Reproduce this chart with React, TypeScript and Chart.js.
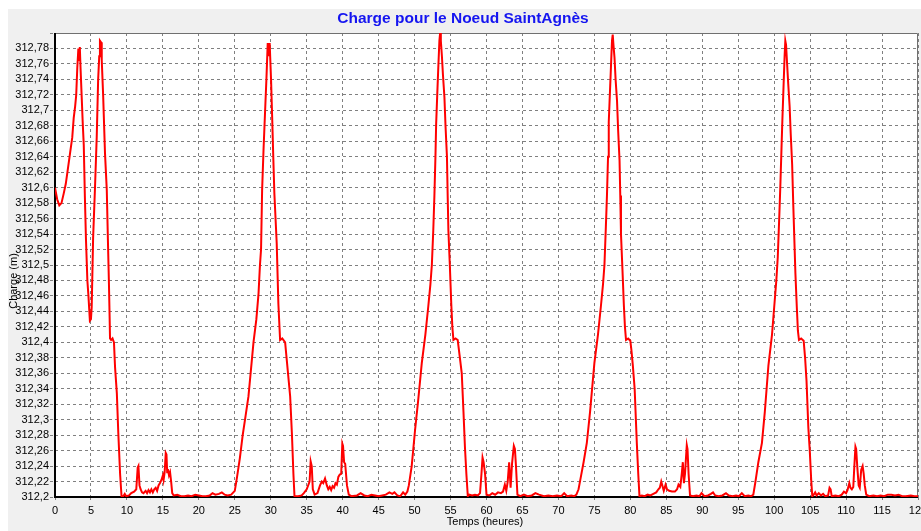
import React, { useEffect, useRef } from "react";
import { Chart, registerables } from "chart.js";

Chart.register(...registerables);

const TITLE = "Charge pour le Noeud SaintAgnès";
const X_TITLE = "Temps (heures)";
const Y_TITLE = "Charge (m)";

const xTicks = [0, 5, 10, 15, 20, 25, 30, 35, 40, 45, 50, 55, 60, 65, 70, 75, 80, 85, 90, 95, 100, 105, 110, 115, 120];
const yTicks = [
  312.2, 312.22, 312.24, 312.26, 312.28, 312.3, 312.32, 312.34, 312.36, 312.38,
  312.4, 312.42, 312.44, 312.46, 312.48, 312.5, 312.52, 312.54, 312.56, 312.58,
  312.6, 312.62, 312.64, 312.66, 312.68, 312.7, 312.72, 312.74, 312.76, 312.78, 312.8,
];

// [hours, charge (m)]
const day1: [number, number][] = [
  [0, 312.6], [0.3, 312.585], [0.6, 312.577], [0.9, 312.58], [1.2, 312.592], [1.5, 312.605],
  [1.8, 312.625], [2.1, 312.645], [2.4, 312.665], [2.6, 312.69], [2.8, 312.705], [2.95, 312.72],
  [3.1, 312.755], [3.25, 312.78], [3.35, 312.765], [3.45, 312.782], [3.55, 312.755], [3.7, 312.72],
  [3.85, 312.685], [4.0, 312.655], [4.15, 312.59], [4.3, 312.535], [4.5, 312.48], [4.65, 312.46],
  [4.85, 312.428], [5.0, 312.43], [5.1, 312.445], [5.3, 312.535], [5.55, 312.597], [5.8, 312.665],
  [6.0, 312.74], [6.15, 312.77], [6.25, 312.79], [6.4, 312.788], [6.5, 312.765], [6.7, 312.718],
  [6.95, 312.645], [7.2, 312.597], [7.35, 312.535], [7.5, 312.476], [7.6, 312.43], [7.65, 312.405],
  [7.8, 312.403], [8.0, 312.405], [8.2, 312.4], [8.35, 312.368], [8.6, 312.334], [8.8, 312.283],
  [9.05, 312.23], [9.25, 312.201], [9.5, 312.201], [9.7, 312.204], [9.9, 312.201], [10.3, 312.202],
  [10.6, 312.205], [11.0, 312.207], [11.3, 312.21], [11.5, 312.238], [11.6, 312.24], [11.75, 312.215],
  [11.9, 312.21], [12.1, 312.206], [12.3, 312.205], [12.6, 312.208], [12.8, 312.205], [13.0, 312.209],
  [13.2, 312.206], [13.4, 312.21], [13.6, 312.206], [13.8, 312.21], [14.0, 312.212], [14.2, 312.208],
  [14.4, 312.215], [14.6, 312.218], [14.8, 312.222], [15.0, 312.228], [15.1, 312.222], [15.25, 312.232],
  [15.4, 312.257], [15.5, 312.255], [15.6, 312.232], [15.7, 312.236], [15.85, 312.228], [16.0, 312.232],
  [16.15, 312.22], [16.3, 312.205], [16.5, 312.202], [17.0, 312.203], [17.5, 312.201], [18.0, 312.201],
  [18.5, 312.202], [19.0, 312.201], [19.5, 312.203], [20.0, 312.202], [20.5, 312.201], [21.0, 312.201],
  [21.5, 312.202], [21.9, 312.205], [22.3, 312.203], [22.8, 312.204], [23.2, 312.206], [23.6, 312.203],
  [24.0, 312.202], [24.5, 312.203], [24.8, 312.206],
];

const day2: [number, number][] = [
  [25.0, 312.208], [25.3, 312.225], [25.7, 312.25], [26.1, 312.28], [26.5, 312.305], [26.9, 312.33],
  [27.3, 312.37], [27.6, 312.4], [28.0, 312.43], [28.3, 312.463], [28.5, 312.5], [28.65, 312.52],
  [28.8, 312.597], [29.0, 312.65], [29.2, 312.696], [29.4, 312.741], [29.58, 312.787], [29.7, 312.77],
  [29.85, 312.787], [30.04, 312.74], [30.2, 312.69], [30.35, 312.64], [30.5, 312.593], [30.83, 312.528],
  [31.06, 312.45], [31.3, 312.403], [31.6, 312.405], [32.0, 312.4], [32.2, 312.38], [32.7, 312.33],
  [32.95, 312.28], [33.15, 312.23], [33.3, 312.201], [33.8, 312.201], [34.3, 312.202], [34.6, 312.205],
  [35.0, 312.21], [35.4, 312.22], [35.55, 312.246], [35.7, 312.24], [35.85, 312.21], [36.1, 312.203],
  [36.5, 312.205], [36.85, 312.215], [37.1, 312.22], [37.3, 312.218], [37.55, 312.224], [37.8, 312.215],
  [38.0, 312.21], [38.2, 312.213], [38.4, 312.209], [38.6, 312.214], [38.8, 312.212], [39.0, 312.218],
  [39.2, 312.216], [39.4, 312.226], [39.6, 312.229], [39.8, 312.23], [39.95, 312.269], [40.05, 312.266],
  [40.2, 312.245], [40.35, 312.243], [40.6, 312.215], [40.85, 312.203], [41.2, 312.201], [42.0, 312.202],
  [42.5, 312.205], [43.0, 312.202], [43.5, 312.201], [44.0, 312.203], [44.5, 312.202], [45.0, 312.201],
  [45.5, 312.202], [46.0, 312.203], [46.5, 312.206], [46.9, 312.204], [47.2, 312.206], [47.6, 312.202],
  [48.0, 312.201], [48.4, 312.206], [48.7, 312.203],
];

const day3: [number, number][] = [
  [49.0, 312.207], [49.2, 312.215], [49.6, 312.24], [50.07, 312.287], [50.5, 312.325], [51.0, 312.373],
  [51.5, 312.41], [51.9, 312.446], [52.2, 312.475], [52.4, 312.5], [52.6, 312.545], [52.75, 312.588],
  [52.9, 312.64], [53.0, 312.683], [53.15, 312.72], [53.3, 312.756], [53.45, 312.79], [53.55, 312.8],
  [53.65, 312.79], [53.8, 312.77], [53.95, 312.745], [54.15, 312.717], [54.3, 312.68], [54.5, 312.64],
  [54.6, 312.59], [54.7, 312.545], [54.9, 312.5], [55.1, 312.45], [55.25, 312.42], [55.4, 312.403],
  [55.7, 312.405], [56.0, 312.403], [56.1, 312.395], [56.3, 312.38], [56.56, 312.36], [56.8, 312.31],
  [57.0, 312.265], [57.2, 312.23], [57.4, 312.201], [57.6, 312.203], [58.0, 312.202], [58.4, 312.203],
  [58.8, 312.202], [59.1, 312.205], [59.3, 312.23], [59.45, 312.251], [59.6, 312.245], [59.8, 312.23],
  [60.0, 312.203], [60.4, 312.202], [60.8, 312.205], [61.2, 312.203], [61.6, 312.206], [62.0, 312.205],
  [62.3, 312.207], [62.55, 312.216], [62.75, 312.208], [62.95, 312.22], [63.15, 312.245], [63.35, 312.212],
  [63.55, 312.243], [63.8, 312.266], [63.95, 312.262], [64.1, 312.24], [64.3, 312.203], [64.7, 312.201],
  [65.2, 312.203], [65.7, 312.201], [66.3, 312.202], [66.8, 312.205], [67.3, 312.203], [68.0, 312.201],
  [68.6, 312.202], [69.2, 312.201], [69.8, 312.202], [70.4, 312.201], [70.8, 312.205], [71.2, 312.201],
  [71.8, 312.202], [72.2, 312.201], [72.5, 312.203],
];

const day4: [number, number][] = [
  [72.8, 312.21], [73.1, 312.225], [73.5, 312.245], [73.95, 312.27], [74.4, 312.31], [75.0, 312.373],
  [75.5, 312.41], [75.9, 312.446], [76.2, 312.475], [76.4, 312.5], [76.6, 312.55], [76.75, 312.59],
  [76.9, 312.64], [77.0, 312.685], [77.15, 312.72], [77.3, 312.755], [77.45, 312.79], [77.55, 312.798],
  [77.65, 312.785], [77.8, 312.768], [77.95, 312.74], [78.15, 312.712], [78.3, 312.675], [78.5, 312.635],
  [78.6, 312.59], [78.7, 312.54], [78.9, 312.495], [79.1, 312.448], [79.25, 312.42], [79.4, 312.403],
  [79.7, 312.405], [80.0, 312.402], [80.15, 312.39], [80.35, 312.37], [80.6, 312.34], [80.9, 312.27],
  [81.1, 312.23], [81.27, 312.201], [81.6, 312.202], [82.0, 312.201], [82.4, 312.203], [82.8, 312.202],
  [83.2, 312.204], [83.6, 312.206], [83.9, 312.21], [84.1, 312.212], [84.3, 312.22], [84.45, 312.215],
  [84.65, 312.208], [84.9, 312.216], [85.1, 312.21], [85.4, 312.208], [85.8, 312.207], [86.2, 312.207],
  [86.5, 312.21], [86.7, 312.216], [86.95, 312.213], [87.15, 312.23], [87.3, 312.245], [87.45, 312.218],
  [87.6, 312.23], [87.85, 312.267], [87.95, 312.262], [88.1, 312.23], [88.3, 312.202], [88.7, 312.201],
  [89.2, 312.202], [89.6, 312.201], [89.9, 312.205], [90.3, 312.201], [90.8, 312.202], [91.2, 312.204],
  [91.5, 312.206], [91.8, 312.202], [92.3, 312.201], [92.8, 312.202], [93.3, 312.205], [93.7, 312.202],
  [94.2, 312.201], [94.7, 312.202], [95.1, 312.201], [95.5, 312.205], [95.9, 312.201], [96.4, 312.202],
  [96.8, 312.201], [97.1, 312.203],
];

const day5: [number, number][] = [
  [97.4, 312.22], [97.8, 312.245], [98.3, 312.27], [98.7, 312.31], [99.2, 312.37], [99.7, 312.41],
  [100.0, 312.445], [100.3, 312.48], [100.5, 312.51], [100.7, 312.56], [100.85, 312.6], [101.0, 312.645],
  [101.15, 312.69], [101.3, 312.73], [101.45, 312.77], [101.55, 312.79], [101.65, 312.785], [101.8, 312.76],
  [101.95, 312.735], [102.15, 312.705], [102.3, 312.67], [102.5, 312.63], [102.65, 312.58], [102.8, 312.535],
  [102.95, 312.49], [103.15, 312.445], [103.3, 312.415], [103.45, 312.403], [103.75, 312.405], [104.1, 312.402],
  [104.3, 312.38], [104.5, 312.35], [104.75, 312.29], [104.95, 312.26], [105.15, 312.222], [105.3, 312.201],
  [105.5, 312.203], [105.7, 312.206], [105.9, 312.202], [106.2, 312.205], [106.5, 312.202], [106.8, 312.204],
  [107.1, 312.201], [107.5, 312.202], [107.7, 312.212], [107.85, 312.21], [108.0, 312.201], [108.5, 312.202],
  [109.0, 312.201], [109.4, 312.203], [109.7, 312.207], [110.0, 312.205], [110.2, 312.209], [110.45, 312.218],
  [110.6, 312.212], [110.8, 312.21], [111.0, 312.213], [111.15, 312.24], [111.3, 312.265], [111.4, 312.262],
  [111.55, 312.24], [111.75, 312.215], [111.9, 312.212], [112.1, 312.235], [112.3, 312.24], [112.45, 312.23],
  [112.6, 312.215], [112.8, 312.203], [113.2, 312.201], [113.8, 312.202], [114.3, 312.201], [114.8, 312.202],
  [115.3, 312.201], [115.8, 312.203], [116.3, 312.203], [116.8, 312.202], [117.3, 312.203], [117.8, 312.201],
  [118.3, 312.201], [119.0, 312.202], [119.5, 312.201], [120, 312.201],
];

const series = [...day1, ...day2, ...day3, ...day4, ...day5];

const fmt = (v: number) => {
  if (v >= 312.799) return "";
  return String(parseFloat(v.toFixed(2))).replace(".", ",");
};

const decorPlugin = {
  id: "decor",
  beforeDraw(chart: any) {
    const { ctx, chartArea: a } = chart;
    ctx.save();
    ctx.fillStyle = "#ffffff";
    ctx.fillRect(a.left, a.top, a.right - a.left, a.bottom - a.top);
    ctx.restore();
  },
  beforeDatasetsDraw(chart: any) {
    const { ctx, chartArea: a } = chart;
    ctx.save();
    ctx.strokeStyle = "#707070";
    ctx.lineWidth = 1;
    ctx.beginPath();
    ctx.moveTo(a.left, a.top + 0.5);
    ctx.lineTo(a.right - 0.5, a.top + 0.5);
    ctx.lineTo(a.right - 0.5, a.bottom);
    ctx.stroke();
    ctx.strokeStyle = "#000000";
    ctx.lineWidth = 2;
    ctx.beginPath();
    ctx.moveTo(a.left, a.top);
    ctx.lineTo(a.left, a.bottom);
    ctx.lineTo(a.right, a.bottom);
    ctx.stroke();
    ctx.restore();
  },
  afterDraw(chart: any) {
    const { ctx } = chart;
    ctx.save();
    ctx.fillStyle = "#1515f0";
    ctx.font = "bold 15.5px 'Liberation Sans', Arial, sans-serif";
    ctx.textAlign = "center";
    ctx.textBaseline = "middle";
    ctx.fillText(TITLE, 455, 10);
    ctx.fillStyle = "#000000";
    ctx.font = "11px 'Liberation Sans', Arial, sans-serif";
    ctx.fillText(X_TITLE, 477, 513);
    ctx.translate(6, 272);
    ctx.rotate(-Math.PI / 2);
    ctx.fillText(Y_TITLE, 0, 0);
    ctx.restore();
  },
};

export default function App() {
  const ref = useRef<HTMLCanvasElement | null>(null);

  useEffect(() => {
    if (!ref.current) return;
    const chart = new Chart(ref.current, {
      type: "line",
      data: {
        datasets: [
          {
            data: series.map(([x, y]) => ({ x, y })),
            borderColor: "#ff0000",
            borderWidth: 2,
            pointRadius: 0,
            tension: 0,
            fill: false,
          },
        ],
      },
      options: {
        animation: false,
        responsive: false,
        events: [],
        layout: { padding: { left: 0, top: 24, right: 3, bottom: 0 } },
        plugins: { legend: { display: false }, tooltip: { enabled: false }, title: { display: false } },
        scales: {
          x: {
            type: "linear",
            min: 0,
            max: 120,
            afterBuildTicks: (s: any) => {
              s.ticks = xTicks.map((v) => ({ value: v }));
            },
            afterFit: (s: any) => {
              s.height = 34;
              s.paddingLeft = 0;
              s.paddingRight = 0;
            },
            ticks: {
              autoSkip: false,
              maxRotation: 0,
              padding: 2,
              color: "#000000",
              font: { family: "'Liberation Sans', Arial, sans-serif", size: 11 },
              callback: (v: any) => String(v),
            },
            grid: {
              color: "#808080",
              lineWidth: 1,
              tickLength: 5,
              tickBorderDash: [3, 3],
            },
            border: { display: false, dash: [3, 3] },
          },
          y: {
            type: "linear",
            min: 312.2,
            max: 312.8,
            afterBuildTicks: (s: any) => {
              s.ticks = yTicks.map((v) => ({ value: v }));
            },
            afterFit: (s: any) => {
              s.width = 47;
              s.paddingTop = 0;
              s.paddingBottom = 0;
            },
            ticks: {
              autoSkip: false,
              padding: 1,
              color: "#000000",
              font: { family: "'Liberation Sans', Arial, sans-serif", size: 11 },
              callback: (v: any) => fmt(Number(v)),
            },
            grid: {
              color: "#808080",
              lineWidth: 1,
              tickLength: 5,
              tickBorderDash: [3, 3],
            },
            border: { display: false, dash: [3, 3] },
          },
        },
      },
      plugins: [decorPlugin],
    } as any);
    return () => chart.destroy();
  }, []);

  return (
    <div
      style={{
        position: "absolute",
        left: 8,
        top: 9,
        width: 913,
        height: 522,
        background: "#f0f0f0",
        overflow: "hidden",
      }}
    >
      <canvas ref={ref} width={913} height={522} style={{ display: "block" }} />
    </div>
  );
}
